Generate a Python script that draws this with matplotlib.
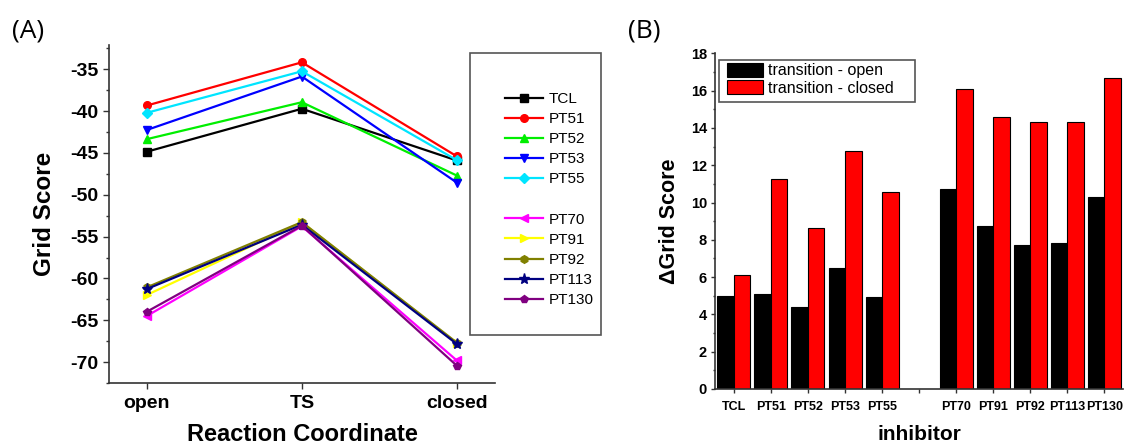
import matplotlib
matplotlib.use("Agg")
import matplotlib.pyplot as plt
from matplotlib.lines import Line2D
from matplotlib.patches import Rectangle

plt.rcParams['font.family'] = ['Liberation Sans', 'DejaVu Sans']
plt.rcParams['axes.unicode_minus'] = False

# ---------------- data ----------------
stages = ["open", "TS", "closed"]
series_names = ["TCL", "PT51", "PT52", "PT53", "PT55",
                "PT70", "PT91", "PT92", "PT113", "PT130"]
tcl   = [-44.85, -39.72, -45.90]
pt51  = [-39.33, -34.17, -45.40]
pt52  = [-43.35, -38.94, -47.70]
pt53  = [-42.25, -35.87, -48.54]
pt55  = [-40.20, -35.24, -45.86]
pt70  = [-64.48, -53.77, -69.80]
pt91  = [-61.97, -53.30, -67.75]
pt92  = [-61.06, -53.27, -67.67]
pt113 = [-61.26, -53.58, -67.83]
pt130 = [-63.97, -53.70, -70.42]
series_values = [tcl, pt51, pt52, pt53, pt55, pt70, pt91, pt92, pt113, pt130]
series_colors = ["#000000", "#ff0000", "#00ee00", "#0000ff", "#00e5ff",
                 "#ff00ff", "#ffff00", "#808000", "#000080", "#800080"]
series_markers = ["s", "o", "^", "v", "D", "<", ">", "h", "*", "p"]
yticks_A = [-70, -65, -60, -55, -50, -45, -40, -35]
yminor_A = [-72.5, -67.5, -62.5, -57.5, -52.5, -47.5, -42.5, -37.5, -32.5]

inhibitors = ["TCL", "PT51", "PT52", "PT53", "PT55", "",
              "PT70", "PT91", "PT92", "PT113", "PT130"]
trans_open   = [5.00, 5.09, 4.41, 6.50, 4.95, None, 10.74, 8.72, 7.72, 7.85, 10.28]
trans_closed = [6.11, 11.26, 8.65, 12.78, 10.56, None, 16.07, 14.57, 14.30, 14.33, 16.69]
yticks_B = [0, 2, 4, 6, 8, 10, 12, 14, 16, 18]
yminor_B = [1, 3, 5, 7, 9, 11, 13, 15, 17]

W, H = 1124, 446
fig = plt.figure(figsize=(W / 100, H / 100), dpi=100)

def fx(px):
    return px / W

def fy(py):
    return 1 - py / H

axis_col = "#333333"

# ---------------- panel A ----------------
axA = fig.add_axes([fx(109), fy(383), fx(495) - fx(109), fy(45) - fy(383)])
xpos = list(range(len(stages)))
handles = []
for name, vals, c, m in zip(series_names, series_values, series_colors, series_markers):
    ms = 8 if m == "*" else 5.5
    h, = axA.plot(xpos, vals, color=c, marker=m, markersize=ms, linewidth=1.6,
                  markeredgecolor=c, label=name)
    handles.append(h)
axA.set_xlim(-0.245, 2.247)
axA.set_ylim(-72.05, -32.1)
axA.set_xticks(xpos)
axA.set_xticklabels(stages, fontsize=14, fontweight="bold")
axA.set_yticks(yticks_A)
axA.set_yticklabels([f"{v:g}" for v in yticks_A], fontsize=14, fontweight="bold")
axA.set_yticks(yminor_A, minor=True)
axA.tick_params(axis="both", which="major", direction="out", length=4.5, width=1,
                color=axis_col, pad=3)
axA.tick_params(axis="y", which="minor", direction="out", length=2.5, width=1, color=axis_col)
axA.tick_params(axis="x", which="major", pad=4)
for s in ["top", "right"]:
    axA.spines[s].set_visible(False)
for s in ["left", "bottom"]:
    axA.spines[s].set_color(axis_col)
    axA.spines[s].set_linewidth(1.2)
axA.set_xlabel("Reaction Coordinate", fontsize=17, fontweight="bold", labelpad=8)
axA.set_ylabel("Grid Score", fontsize=17.5, fontweight="bold", labelpad=10)

# legend box for panel A
fig.patches.append(Rectangle((fx(470), fy(335)), fx(601) - fx(470), fy(52.7) - fy(335),
                             transform=fig.transFigure, fill=False,
                             edgecolor="#555555", linewidth=1.2, zorder=5))
blank = Line2D([], [], linestyle="none", marker=None)
leg_handles = handles[:5] + [blank] + handles[5:]
leg_labels = series_names[:5] + [""] + series_names[5:]
fig.legend(leg_handles, leg_labels, loc="upper left",
           bbox_to_anchor=(fx(505), fy(92)), frameon=False, fontsize=11,
           handlelength=2.5, handletextpad=0.35, labelspacing=0.4, borderpad=0,
           borderaxespad=0)

fig.text(fx(12), fy(38), "(A)", fontsize=19, family=["Open Sans", "DejaVu Sans"],
         ha="left", va="baseline")

# ---------------- panel B ----------------
axB = fig.add_axes([fx(715.3), fy(389), fx(1123) - fx(715.3), fy(53.3) - fy(389)])
bw = 0.445
idx = [i for i, v in enumerate(trans_open) if v is not None]
axB.bar([i - bw / 2 for i in idx], [trans_open[i] for i in idx], width=bw,
        color="black", edgecolor="black", linewidth=0.8, label="transition - open")
axB.bar([i + bw / 2 for i in idx], [trans_closed[i] for i in idx], width=bw,
        color="#ff0000", edgecolor="black", linewidth=0.8, label="transition - closed")
axB.set_xlim(-0.5, 10.5)
axB.set_ylim(0, 18)
axB.set_xticks(range(len(inhibitors)))
axB.set_xticklabels(inhibitors, fontsize=9, fontweight="bold")
axB.set_yticks(yticks_B)
axB.set_yticklabels([str(v) for v in yticks_B], fontsize=10.5, fontweight="bold")
axB.set_yticks(yminor_B, minor=True)
axB.tick_params(axis="both", which="major", direction="out", length=3, width=1,
                color=axis_col, pad=3)
axB.tick_params(axis="y", which="minor", direction="out", length=1.8, width=1, color=axis_col)
axB.tick_params(axis="x", which="major", pad=6)
for s in ["top", "right"]:
    axB.spines[s].set_visible(False)
for s in ["left", "bottom"]:
    axB.spines[s].set_color(axis_col)
    axB.spines[s].set_linewidth(1.2)
axB.set_xlabel("inhibitor", fontsize=15, fontweight="bold", labelpad=8)
axB.set_ylabel("\u0394Grid Score", fontsize=15.5, fontweight="bold", labelpad=8)

fig.patches.append(Rectangle((fx(719), fy(101.7)), fx(915) - fx(719), fy(60) - fy(101.7),
                             transform=fig.transFigure, fill=False,
                             edgecolor="#555555", linewidth=1.2, zorder=5))
axB.legend(loc="upper left", bbox_to_anchor=(fx(727), fy(63)),
           bbox_transform=fig.transFigure, fontsize=11.5, frameon=False,
           handlelength=2.25, handleheight=0.95, handletextpad=0.3,
           labelspacing=0.12, borderpad=0, borderaxespad=0)

fig.text(fx(628), fy(38), "(B)", fontsize=19, family=["Open Sans", "DejaVu Sans"],
         ha="left", va="baseline")

fig.savefig("out.png", dpi=100)
